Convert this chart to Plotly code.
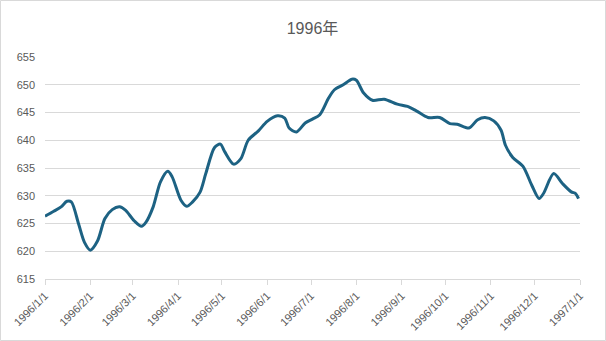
import plotly.graph_objects as go

dates = ["1996-01-01","1996-01-07","1996-01-12","1996-01-16","1996-01-19","1996-01-24","1996-01-28",
         "1996-02-01","1996-02-06","1996-02-11","1996-02-16","1996-02-21","1996-02-25","1996-03-02",
         "1996-03-07","1996-03-10","1996-03-15","1996-03-20","1996-03-25","1996-03-28","1996-04-03",
         "1996-04-07","1996-04-11","1996-04-16","1996-04-20","1996-04-26","1996-04-30","1996-05-03",
         "1996-05-09","1996-05-14","1996-05-19","1996-05-26","1996-06-01","1996-06-08","1996-06-13",
         "1996-06-16","1996-06-21","1996-06-27","1996-07-02","1996-07-07","1996-07-13","1996-07-17",
         "1996-07-23","1996-07-29","1996-08-01","1996-08-06","1996-08-12","1996-08-20","1996-08-29",
         "1996-09-05","1996-09-11","1996-09-19","1996-09-27","1996-10-04","1996-10-09","1996-10-17",
         "1996-10-23","1996-10-28","1996-11-03","1996-11-08","1996-11-11","1996-11-16","1996-11-23",
         "1996-11-29","1996-12-04","1996-12-07","1996-12-14","1996-12-20","1996-12-26","1996-12-29",
         "1996-12-31"]
values = [626.3,627.2,628.0,629.0,628.9,624.9,621.6,
          620.2,621.9,625.9,627.5,628.0,627.4,625.5,
          624.5,625.2,628.0,632.5,634.4,633.4,629.2,
          628.1,628.9,630.6,634.0,638.7,639.3,637.9,
          635.7,636.7,640.0,641.7,643.4,644.4,644.0,
          642.2,641.5,643.1,643.8,644.6,647.6,649.1,
          650.0,651.0,650.8,648.5,647.2,647.4,646.5,
          646.1,645.3,644.1,644.1,643.0,642.9,642.2,
          643.7,644.1,643.5,641.8,639.1,636.9,635.3,
          631.9,629.5,630.4,634.0,632.2,630.7,630.4,
          629.5]

tick_vals = ["1996-01-01","1996-02-01","1996-03-01","1996-04-01","1996-05-01","1996-06-01",
             "1996-07-01","1996-08-01","1996-09-01","1996-10-01","1996-11-01","1996-12-01","1997-01-01"]
tick_text = ["1996/1/1","1996/2/1","1996/3/1","1996/4/1","1996/5/1","1996/6/1",
             "1996/7/1","1996/8/1","1996/9/1","1996/10/1","1996/11/1","1996/12/1","1997/1/1"]
y_ticks = [615, 620, 625, 630, 635, 640, 645, 650, 655]

fig = go.Figure()
fig.add_trace(go.Scatter(x=dates, y=values, mode="lines",
                         line=dict(color="#1d6283", width=3, shape="spline", smoothing=0.8),
                         hoverinfo="skip"))

L, R, T, B = 45, 26, 57, 62
W, H = 606, 341
pw, ph = W - L - R, H - T - B

fig.update_layout(
    width=W, height=H,
    margin=dict(l=L, r=R, t=T, b=B, autoexpand=False),
    paper_bgcolor="white", plot_bgcolor="white",
    showlegend=False,
    title=dict(text="1996年", x=0.5, xref="paper", xanchor="center", y=1 - 28 / H, yanchor="middle",
               font=dict(family="Liberation Sans, Noto Sans CJK SC", size=16, color="#595959")),
    font=dict(family="Liberation Sans, Noto Sans CJK SC", color="#595959"),
    xaxis=dict(type="date", range=["1996-01-01", "1997-01-01"], automargin=False,
               tickvals=tick_vals, ticktext=tick_text, tickangle=-45,
               tickfont=dict(size=11, color="#595959"),
               showgrid=False, showline=True, linecolor="#d9d9d9", linewidth=1,
               ticks="outside", ticklen=5, tickcolor="#d9d9d9", zeroline=False),
    yaxis=dict(range=[615, 655], tickvals=y_ticks, tickfont=dict(size=11, color="#595959"),
               automargin=False,
               showgrid=True, gridcolor="#d9d9d9", gridwidth=1, showline=False,
               zeroline=False, ticks="", ticklabelstandoff=9),
    shapes=[dict(type="rect", xref="paper", yref="paper",
                 x0=(0.5 - L) / pw, x1=(W - 0.5 - L) / pw,
                 y0=-(B - 0.5) / ph, y1=1 + (T - 0.5) / ph,
                 line=dict(color="#d9d9d9", width=1), fillcolor="rgba(0,0,0,0)", layer="below")],
)

fig.write_html("out.html")
